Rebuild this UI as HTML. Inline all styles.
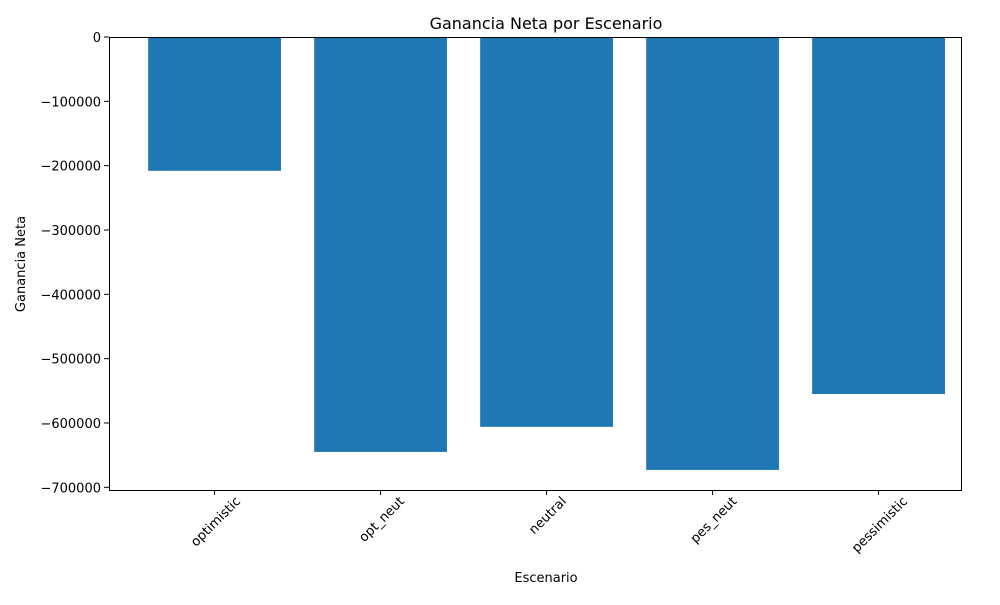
<!DOCTYPE html>
<html><head><meta charset="utf-8"><style>
body{margin:0;background:#fff;}
svg text{font-family:"DejaVu Sans","Liberation Sans",sans-serif;fill:#000;}
</style></head><body>
<svg id="chart" width="1000" height="600" viewBox="0 0 1000 600" xmlns="http://www.w3.org/2000/svg">
<rect width="1000" height="600" fill="#fff"/>
<text x="546" y="29" font-size="16" text-anchor="middle">Ganancia Neta por Escenario</text>
<text x="546" y="582" font-size="13" text-anchor="middle">Escenario</text>
<text transform="translate(25,264) rotate(-90)" font-size="13" text-anchor="middle">Ganancia Neta</text>
<g id="bars"></g>
<g id="yticks"></g>
<g id="xticks"></g>
<rect x="109.5" y="37.5" width="852" height="453" fill="none" stroke="#000" stroke-width="1"/>
</svg>
<script>
const categories=["optimistic","opt_neut","neutral","pes_neut","pessimistic"];
const values=[-208000,-645000,-606000,-673000,-555000];
const yTickValues=[0,-100000,-200000,-300000,-400000,-500000,-600000,-700000];
const yTickLabels=["0","\u2212100000","\u2212200000","\u2212300000","\u2212400000","\u2212500000","\u2212600000","\u2212700000"];
const L=109,R=961,T=37,B=490;
const yMax=0,yMin=-704200;
function y(v){return T+(yMax-v)/(yMax-yMin)*(B-T);}
const n=categories.length,xMin=-0.636,xMax=xMin+(R-L)/166;
function x(i){return L+(i-xMin)/(xMax-xMin)*(R-L);}
const bw=0.8*(R-L)/(xMax-xMin);
const NS="http://www.w3.org/2000/svg";
const bars=document.getElementById('bars'),yt=document.getElementById('yticks'),xt=document.getElementById('xticks');
values.forEach((v,i)=>{
 const r=document.createElementNS(NS,'rect');
 
 
 const y0=y(0),y1=y(v);
 r.setAttribute('x',x(i)-bw/2);r.setAttribute('width',bw);
 r.setAttribute('y',Math.min(y0,y1));r.setAttribute('height',Math.abs(y1-y0));
 r.setAttribute('fill','#1f77b4');bars.appendChild(r);
 const tk=document.createElementNS(NS,'line');
 
 
 tk.setAttribute('x1',x(i));tk.setAttribute('x2',x(i));tk.setAttribute('y1',B);tk.setAttribute('y2',B+5);tk.setAttribute('stroke','#000');xt.appendChild(tk);
 const t=document.createElementNS(NS,'text');
 
 
 t.setAttribute('font-size','13');t.setAttribute('text-anchor','end');
 t.textContent=categories[i];xt.appendChild(t);
 const len=t.getComputedTextLength();
 t.setAttribute('transform','translate('+(x(i)+len*0.707/2+4)+','+(B+12)+') rotate(-45)');
});
yTickValues.forEach((v,i)=>{
 const yy=y(v);
 const tk=document.createElementNS(NS,'line');
 
 
 tk.setAttribute('x1',L-5);tk.setAttribute('x2',L);tk.setAttribute('y1',yy);tk.setAttribute('y2',yy);tk.setAttribute('stroke','#000');yt.appendChild(tk);
 const t=document.createElementNS(NS,'text');
 
 
 t.setAttribute('font-size','13');t.setAttribute('text-anchor','end');
 t.setAttribute('x',L-8);t.setAttribute('y',yy+5);t.textContent=yTickLabels[i];yt.appendChild(t);
});
</script>
</body></html>
